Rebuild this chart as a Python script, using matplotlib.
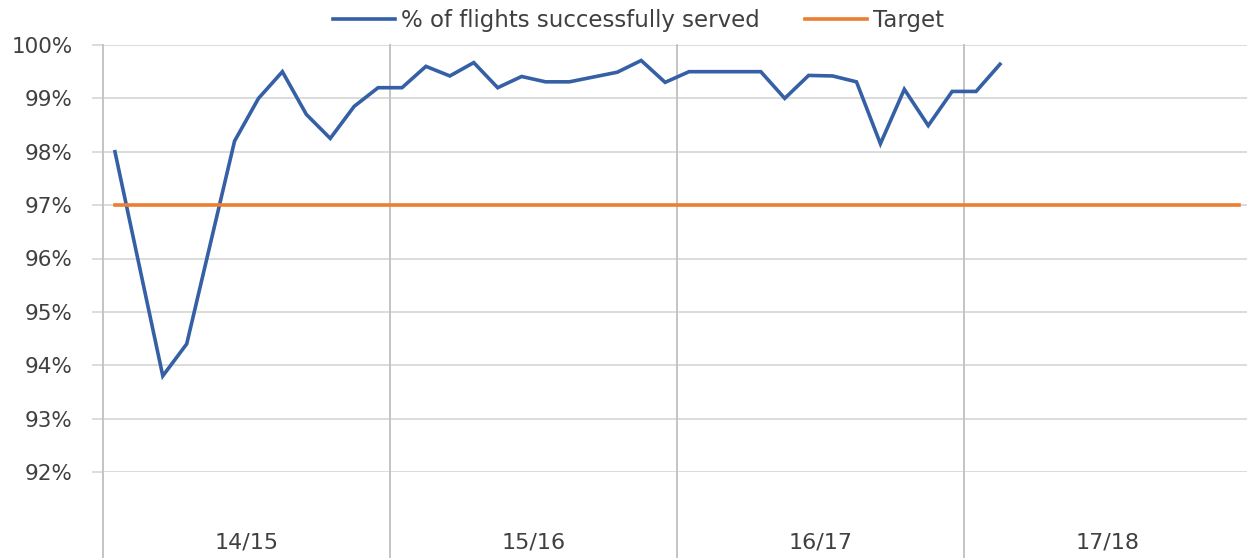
import matplotlib.pyplot as plt
import numpy as np

plt.rcParams['font.family'] = ['DejaVu Sans']

seasons = ["14/15", "15/16", "16/17", "17/18"]
months_per_season = 12

# monthly % of flights successfully served (14/15 onwards)
served = [
    98.0, 95.9, 93.8, 94.4, 96.3, 98.2, 99.0, 99.5, 98.7, 98.25, 98.85, 99.2,
    99.2, 99.6, 99.42, 99.67, 99.2, 99.41, 99.31, 99.31, 99.4, 99.49, 99.71, 99.3,
    99.5, 99.5, 99.5, 99.5, 99.0, 99.43, 99.42, 99.31, 98.15, 99.17, 98.49, 99.13,
    99.13, 99.64,
]
target = 97.0

n = months_per_season * len(seasons)
grid_c = "#D6D6D6"
div_c = "#C4C4C4"
text_c = "#404040"
fs = 15.5

fig = plt.figure(figsize=(12.47, 5.58), dpi=100)
ax = fig.add_axes([103 / 1247, 86 / 558, 1 - 103 / 1247, 427 / 558])

x = np.arange(len(served))
ax.plot(x, served, color="#3560A5", lw=2.6, label="% of flights successfully served",
        solid_joinstyle="miter", zorder=3)
ax.plot(np.arange(n), [target] * n, color="#ED7D31", lw=2.6, label="Target", zorder=3)

ax.set_ylim(92, 100)
ax.set_xlim(-0.5, -0.5 + (1247 - 103) / 23.92)
ax.set_yticks(np.arange(92, 101, 1))
ax.set_yticklabels([f"{v}%" for v in range(92, 101)])
ax.yaxis.grid(True, color=grid_c, lw=1.2)
ax.set_axisbelow(True)
ax.tick_params(axis="y", length=8, width=1.2, color=grid_c, labelsize=fs,
               labelcolor=text_c, pad=14)
ax.set_xticks([])
for s in ["top", "right", "bottom", "left"]:
    ax.spines[s].set_visible(False)

# season dividers run down through the label area
for b in range(len(seasons)):
    ax.axvline(b * months_per_season - 0.5, ymin=-0.205, ymax=1, color=div_c,
               lw=1.4, clip_on=False, zorder=1)
for i, s in enumerate(seasons):
    ax.text(i * months_per_season + (months_per_season - 1) / 2, -0.166, s,
            transform=ax.get_xaxis_transform(), ha="center", va="center",
            fontsize=16, color=text_c)

fig.legend(loc="center", bbox_to_anchor=(0.512, 0.964), ncol=2, frameon=False,
           prop={"size": 16.5}, handlelength=2.7, columnspacing=2.0,
           handletextpad=0.25, labelcolor=text_c)

fig.savefig("out.png", dpi=100)
